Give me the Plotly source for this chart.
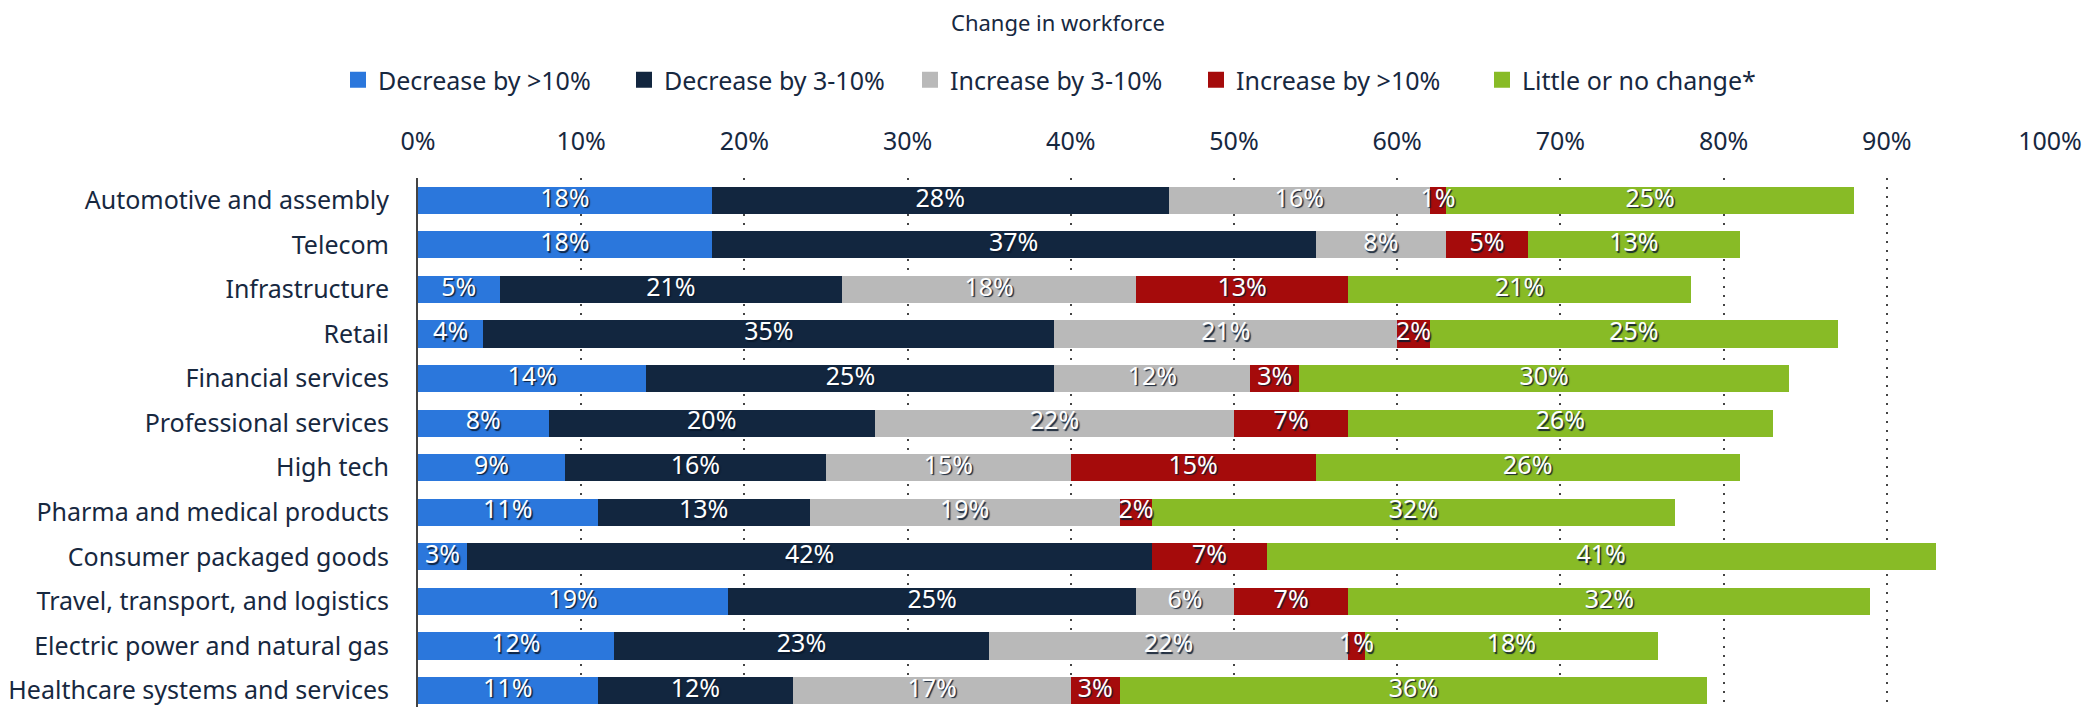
import plotly.graph_objects as go

categories = [
    "Automotive and assembly", "Telecom", "Infrastructure", "Retail",
    "Financial services", "Professional services", "High tech",
    "Pharma and medical products", "Consumer packaged goods",
    "Travel, transport, and logistics", "Electric power and natural gas",
    "Healthcare systems and services",
]
series_names = ["Decrease by >10%", "Decrease by 3-10%", "Increase by 3-10%",
                "Increase by >10%", "Little or no change*"]
dec_gt10 = [18, 18, 5, 4, 14, 8, 9, 11, 3, 19, 12, 11]
dec_3_10 = [28, 37, 21, 35, 25, 20, 16, 13, 42, 25, 23, 12]
inc_3_10 = [16, 8, 18, 21, 12, 22, 15, 19, 0, 6, 22, 17]
inc_gt10 = [1, 5, 13, 2, 3, 7, 15, 2, 7, 7, 1, 3]
no_change = [25, 13, 21, 25, 30, 26, 26, 32, 41, 32, 18, 36]
tick_vals = [0, 10, 20, 30, 40, 50, 60, 70, 80, 90, 100]
tick_text = [f"{v}%" for v in tick_vals]

series = [dec_gt10, dec_3_10, inc_3_10, inc_gt10, no_change]
colors = ["#2b77dc", "#12263f", "#b9b9b9", "#a50b0b", "#88bb26"]
TEXT = "#17283f"
FONT = "Noto Sans"
FS = 25

fig = go.Figure()
for name, vals, col in zip(series_names, series, colors):
    fig.add_trace(go.Bar(
        y=categories, x=vals, name=name, orientation="h",
        marker=dict(color=col, line=dict(width=0)),
        showlegend=False, hoverinfo="x+y+name",
    ))

# legend entries with larger square swatches
for name, col in zip(series_names, colors):
    fig.add_trace(go.Scatter(
        x=[None], y=[None], mode="markers", name=name,
        marker=dict(symbol="square", size=18, color=col), hoverinfo="skip",
    ))

# labels centred in each segment, drawn above all bars
lx, ly, lt = [], [], []
for i, cat in enumerate(categories):
    cum = 0
    for vals in series:
        v = vals[i]
        if v > 0:
            lx.append(cum + v / 2)
            ly.append(cat)
            lt.append(f"{v}%")
        cum += v
fig.add_trace(go.Scatter(
    x=lx, y=ly, text=lt, mode="text", showlegend=False, hoverinfo="skip",
    textposition="middle center",
    textfont=dict(family=FONT, size=FS, color="white",
                  shadow="1.5px 1.5px 1px rgba(10,25,45,0.9)"),
))

fig.update_layout(
    barmode="stack",
    width=2100, height=707,
    margin=dict(l=410, r=58, t=170, b=0),
    paper_bgcolor="white", plot_bgcolor="white",
    font=dict(family=FONT, color=TEXT, size=FS),
    bargap=0.39,
    title=dict(text="Change in workforce", x=0.5, xanchor="center",
               y=1 - 15 / 707, yanchor="middle", yref="container",
               font=dict(family=FONT, size=22, color=TEXT)),
    legend=dict(orientation="h", x=330 / 2100, xanchor="left", xref="container",
                y=1 - 72 / 707, yanchor="middle", yref="container",
                font=dict(family=FONT, size=FS, color=TEXT),
                traceorder="normal", itemwidth=30,
                entrywidth=241, entrywidthmode="pixels"),
    xaxis=dict(side="top", range=[0, 100], tickvals=tick_vals, ticktext=tick_text,
               showgrid=True, gridcolor="#444444", gridwidth=2, griddash="2px,7px",
               zeroline=False, showline=False, ticks="", ticklabelstandoff=22,
               automargin=False,
               tickfont=dict(family=FONT, size=FS, color=TEXT), fixedrange=True),
    yaxis=dict(categoryorder="array", categoryarray=categories,
               range=[11.55, -0.5], showgrid=False, zeroline=False,
               showline=True, linecolor="#444444", linewidth=2,
               ticks="", ticklabelstandoff=22, automargin=False,
               tickfont=dict(family=FONT, size=FS, color=TEXT)),
    showlegend=True,
)

fig.write_html("out.html")
